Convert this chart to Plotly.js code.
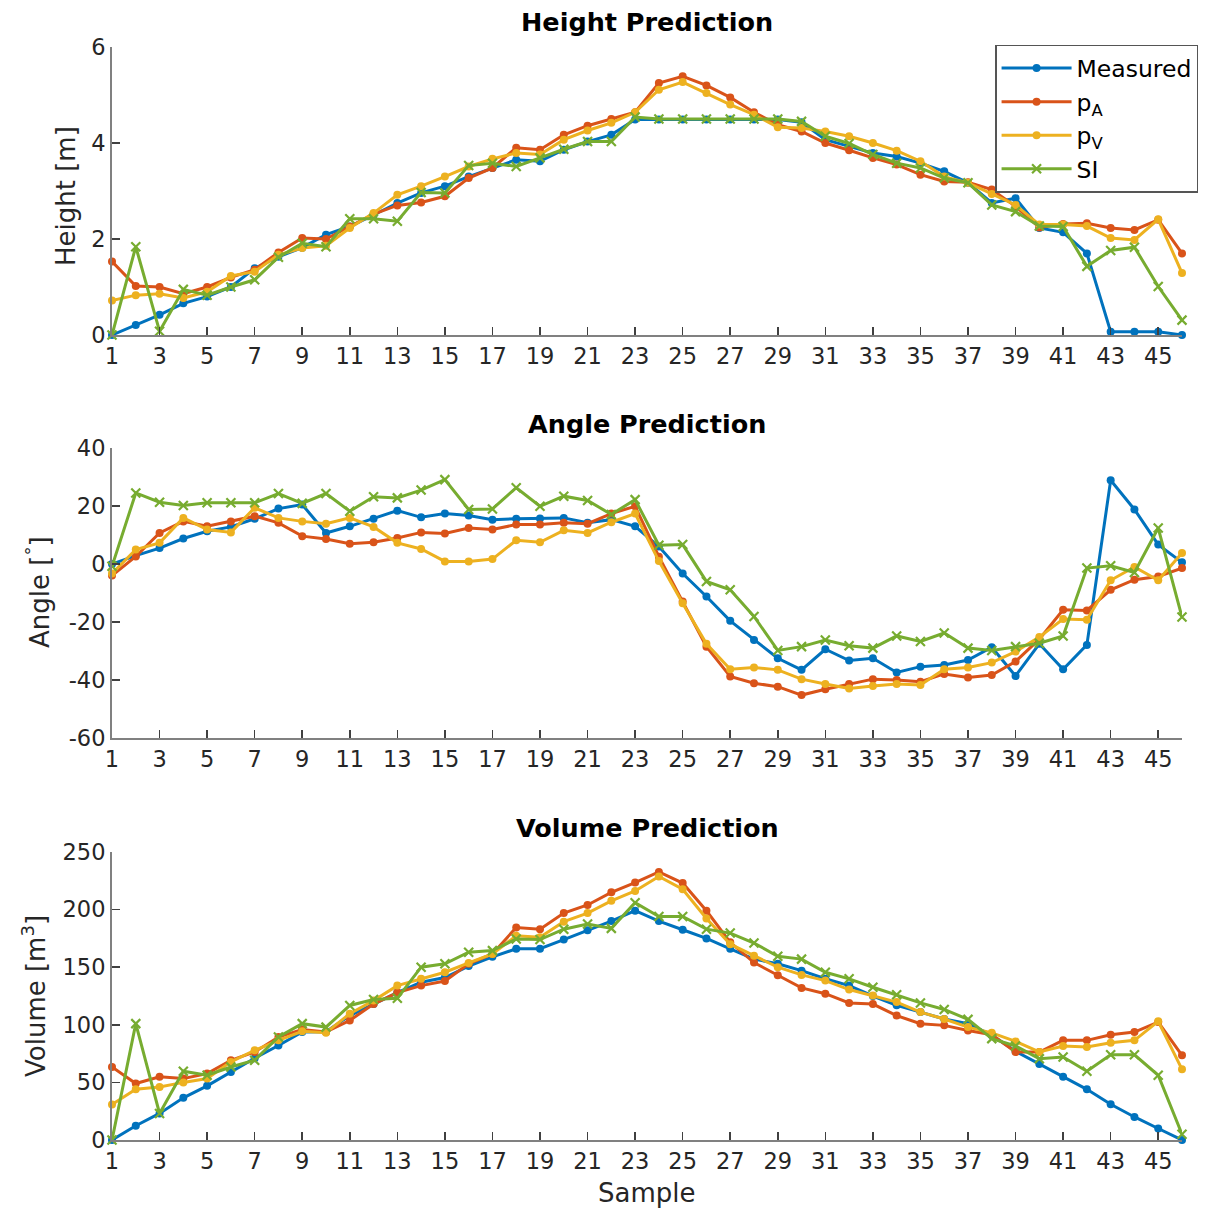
<!DOCTYPE html>
<html>
<head>
<meta charset="utf-8">
<script src="https://cdn.plot.ly/plotly-3.0.1.min.js"></script>
<style>html,body{margin:0;padding:0;background:#fff;}#chart{width:1210px;height:1213px;}</style>
</head>
<body>
<div id="chart"></div>
<script>
const samples = [1,2,3,4,5,6,7,8,9,10,11,12,13,14,15,16,17,18,19,20,21,22,23,24,25,26,27,28,29,30,31,32,33,34,35,36,37,38,39,40,41,42,43,44,45,46];

const heightMeasured = [0,0.21,0.42,0.66,0.8,1.0,1.39,1.63,1.82,2.09,2.26,2.5,2.75,2.96,3.1,3.3,3.48,3.65,3.62,3.86,4.03,4.17,4.49,4.49,4.49,4.49,4.49,4.49,4.49,4.43,4.07,3.93,3.79,3.72,3.58,3.41,3.17,2.75,2.85,2.23,2.14,1.70,0.07,0.07,0.07,0];
const heightPA = [1.53,1.02,1.0,0.86,1.0,1.2,1.36,1.72,2.02,2.0,2.26,2.52,2.7,2.76,2.89,3.27,3.48,3.9,3.86,4.17,4.36,4.5,4.64,5.25,5.39,5.2,4.95,4.64,4.38,4.24,4.0,3.85,3.69,3.55,3.34,3.2,3.18,3.03,2.68,2.24,2.31,2.33,2.23,2.19,2.4,1.7];
const heightPV = [0.72,0.83,0.86,0.77,0.9,1.23,1.32,1.67,1.81,1.86,2.23,2.54,2.92,3.1,3.3,3.51,3.67,3.79,3.76,4.07,4.26,4.42,4.64,5.11,5.27,5.04,4.8,4.59,4.33,4.31,4.24,4.14,4.0,3.84,3.62,3.3,3.17,2.94,2.71,2.3,2.3,2.27,2.02,1.98,2.41,1.29];
const heightSI = [0,1.84,0.08,0.95,0.83,1.0,1.15,1.62,1.91,1.84,2.42,2.42,2.37,2.97,2.96,3.53,3.58,3.51,3.69,3.87,4.03,4.03,4.54,4.5,4.5,4.5,4.5,4.5,4.5,4.45,4.14,3.99,3.76,3.58,3.48,3.27,3.17,2.71,2.57,2.27,2.26,1.43,1.76,1.83,1.01,0.31];

const angleMeasured = [0,2.9,5.5,8.8,11.3,12.8,15.6,19.1,20.5,10.7,13.0,15.6,18.4,16.1,17.4,16.7,15.3,15.6,15.7,15.9,14.2,15.3,13.0,6.0,-3.3,-11.2,-19.6,-26.2,-32.5,-36.5,-29.4,-33.3,-32.5,-37.4,-35.4,-34.8,-33.1,-28.7,-38.6,-27.5,-36.3,-27.9,28.9,18.8,6.7,0.6];
const anglePA = [-4.0,2.6,10.7,14.7,13.0,14.7,16.5,14.2,9.6,8.6,7.0,7.5,9.0,10.9,10.5,12.4,11.9,13.6,13.6,14.2,13.9,17.4,19.9,2.5,-12.9,-28.5,-38.8,-41.1,-42.3,-45.2,-43.2,-41.4,-39.7,-40.0,-40.6,-37.9,-39.1,-38.3,-33.6,-25.9,-15.8,-16.0,-8.9,-5.4,-4.3,-1.4];
const anglePV = [-3.3,5.0,7.3,15.9,11.9,10.9,19.4,15.9,14.7,13.9,15.9,12.8,7.3,5.2,0.9,0.9,1.7,8.2,7.5,11.6,10.7,14.4,17.4,1.0,-13.5,-27.5,-36.3,-35.7,-36.5,-39.7,-41.4,-42.9,-42.1,-41.4,-41.7,-36.3,-35.7,-34.0,-30.2,-25.2,-19.0,-19.2,-5.6,-1.0,-5.6,3.8];
const angleSI = [-0.8,24.5,21.3,20.2,21.1,21.1,21.1,24.3,20.9,24.3,18.2,23.2,22.8,25.5,29.1,18.8,19.0,26.3,19.9,23.4,21.9,17.1,22.2,6.5,6.7,-6.0,-8.9,-18.1,-29.8,-28.5,-26.2,-28.2,-29.0,-24.8,-26.7,-23.8,-29.0,-29.8,-28.5,-27.3,-24.8,-1.4,-0.6,-2.9,12.4,-18.3];

const volumeMeasured = [0,12.4,23.1,36.6,47,59,71,82,93.7,94,108,118,128,137,141,151,159,166,166,174,182,190,199,190,182.5,175,166,157,153,147,140,134,125,117,111,105,101,91,77,66,55,44,31,20,10,0];
const volumePA = [63.4,49,54.8,53.3,57.7,69.2,76.4,89.4,96,93.7,103.8,118,128,134,138,153,161.5,184.5,183,197,204,215,223.5,232.7,223,199,171.6,154,143,132,127,119,118,108,101,99.5,95,91.4,76.4,76.4,86.5,86.5,91.4,93.7,102.4,73.5];
const volumePV = [30.9,44,46,50,53.3,67.8,77.9,86.5,94.3,93.1,109.6,121,134,140,145.6,153.7,161.5,177.3,176,189.5,197,207.6,216.2,228.7,217.7,192.3,170,160,150,143.3,138.4,130.6,125.4,119.7,111,105,98,93,85.6,76.4,81.6,80.7,84.5,86.5,103,61.4];
const volumeSI = [0,101,23,59.7,56.2,63.4,69.2,89.4,101,98,116.8,122,123,150,153,163,164.4,174.5,174,183,187.5,183.7,206,194,194,183,179.6,171,159.5,157,145.6,139.9,132.6,126,119,113.3,104.7,88,81.6,70.6,72,59.7,74,74,56.2,5];

const seriesNames = ['Measured','p<sub>A</sub>','p<sub>V</sub>','SI'];
const seriesColors = ['#0072BD','#D95319','#EDB120','#77AC30'];
const xTickVals = [1,3,5,7,9,11,13,15,17,19,21,23,25,27,29,31,33,35,37,39,41,43,45];
const heightTicks = [0,2,4,6];
const angleTicks = [-60,-40,-20,0,20,40];
const volumeTicks = [0,50,100,150,200,250];

const panels = [
  {data:[heightMeasured,heightPA,heightPV,heightSI], xa:'x', ya:'y'},
  {data:[angleMeasured,anglePA,anglePV,angleSI], xa:'x2', ya:'y2'},
  {data:[volumeMeasured,volumePA,volumePV,volumeSI], xa:'x3', ya:'y3'}
];

const traces = [];
panels.forEach((p, pi) => {
  p.data.forEach((vals, si) => {
    const isSI = si === 3;
    traces.push({
      x: samples, y: vals, xaxis: p.xa, yaxis: p.ya,
      type: 'scatter', mode: 'lines+markers',
      name: seriesNames[si], showlegend: pi === 0,
      line: {color: seriesColors[si], width: 3},
      marker: isSI ? {symbol: 'x-thin', size: 9, color: seriesColors[si], line: {color: seriesColors[si], width: 2.2}}
                   : {symbol: 'circle', size: 8, color: seriesColors[si]},
      cliponaxis: false
    });
  });
});

const FAM = 'DejaVu Sans, Liberation Sans, Arial, sans-serif';
const tickFont = {family: FAM, size: 22.5, color: '#262626'};
function xax(){
  return {domain:[0,1], range:[1,46], tickvals:xTickVals, ticks:'inside', ticklen:8, tickwidth:1.5, tickcolor:'#404040',
    showline:true, linecolor:'#808080', linewidth:2, showgrid:false, zeroline:false, tickfont:tickFont, fixedrange:true};
}
function yax(dom, rng, tv){
  return {domain:dom, range:rng, tickvals:tv, ticktext:tv.map(v => String(v)), ticks:'inside', ticklen:8, tickwidth:1.5, tickcolor:'#404040',
    showline:true, linecolor:'#808080', linewidth:2, showgrid:false, zeroline:false, tickfont:tickFont, fixedrange:true};
}

const titleFont = {family: FAM, size: 25.5, color: '#000'};
const labFont = {family: FAM, size: 26, color: '#262626'};

const layout = {
  width: 1210, height: 1213,
  margin: {l:112, r:28, t:47, b:73},
  paper_bgcolor: '#fff', plot_bgcolor: '#fff',
  showlegend: true,
  legend: {x:0.8253, y:1.002, xanchor:'left', yanchor:'top', bgcolor:'#fff', bordercolor:'#555', borderwidth:1.5,
    font:{family:FAM, size:23.5, color:'#000'}, itemwidth:70, tracegroupgap:0},
  xaxis: Object.assign(xax(), {anchor:'y'}),
  yaxis: Object.assign(yax([0.7365,1],[0,6],heightTicks), {anchor:'x'}),
  xaxis2: Object.assign(xax(), {anchor:'y2'}),
  yaxis2: Object.assign(yax([0.3678,0.6331],[-60,40],angleTicks), {anchor:'x2'}),
  xaxis3: Object.assign(xax(), {anchor:'y3'}),
  yaxis3: Object.assign(yax([0,0.2635],[0,250],volumeTicks), {anchor:'x3'}),
  annotations: [
    {text:'<b>Height Prediction</b>', xref:'paper', yref:'paper', x:0.5, y:(1140-22)/1093, xanchor:'center', yanchor:'middle', showarrow:false, font:titleFont},
    {text:'<b>Angle Prediction</b>', xref:'paper', yref:'paper', x:0.5, y:(1140-424)/1093, xanchor:'center', yanchor:'middle', showarrow:false, font:titleFont},
    {text:'<b>Volume Prediction</b>', xref:'paper', yref:'paper', x:0.5, y:(1140-828)/1093, xanchor:'center', yanchor:'middle', showarrow:false, font:titleFont},
    {text:'Sample', xref:'paper', yref:'paper', x:0.5, y:(1140-1193)/1093, xanchor:'center', yanchor:'middle', showarrow:false, font:labFont},
    {text:'Height [m]', xref:'paper', yref:'paper', x:(66-112)/1070, y:(1140-196)/1093, xanchor:'center', yanchor:'middle', textangle:-90, showarrow:false, font:labFont},
    {text:'Angle [<sup>°</sup>]', xref:'paper', yref:'paper', x:(38-112)/1070, y:(1140-592)/1093, xanchor:'center', yanchor:'middle', textangle:-90, showarrow:false, font:labFont},
    {text:'Volume [m<sup>3</sup>]', xref:'paper', yref:'paper', x:(34-112)/1070, y:(1140-996)/1093, xanchor:'center', yanchor:'middle', textangle:-90, showarrow:false, font:labFont}
  ]
};

Plotly.newPlot('chart', traces, layout, {displayModeBar:false, staticPlot:true});
</script>
</body>
</html>
